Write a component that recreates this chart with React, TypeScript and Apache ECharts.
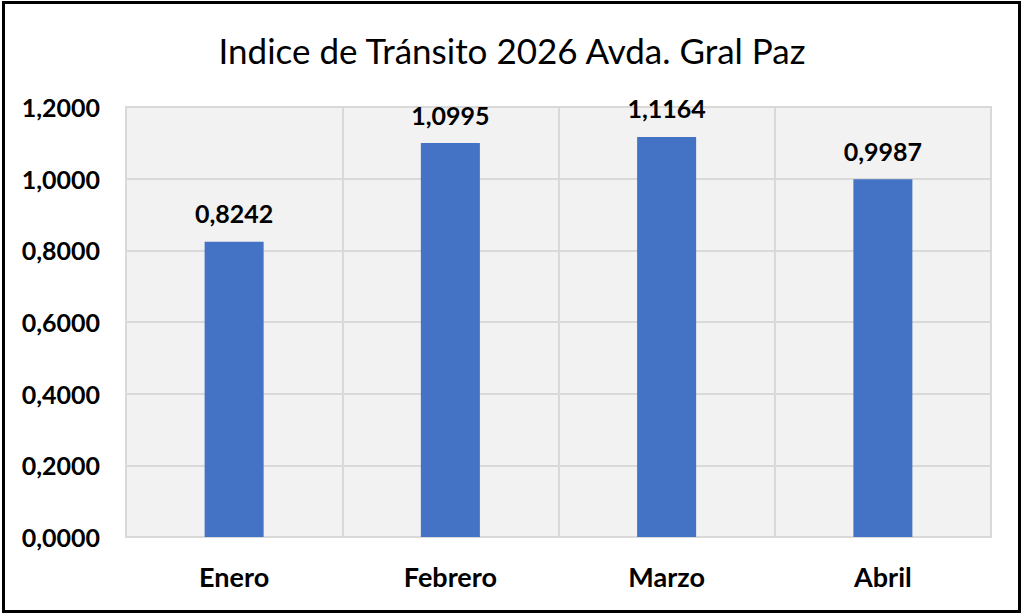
import React, { useEffect, useRef } from "react";
import * as echarts from "echarts";

const categories = ["Enero", "Febrero", "Marzo", "Abril"];
const values = [0.8242, 1.0995, 1.1164, 0.9987];
const titleText = "Indice de Tránsito 2026 Avda. Gral Paz";

const fmt = (v: number) => v.toFixed(4).replace(".", ",");

export default function App() {
  const ref = useRef<HTMLDivElement>(null);
  useEffect(() => {
    document.body.style.margin = "0";
    const chart = echarts.init(ref.current!, null, { renderer: "svg" });
    chart.setOption({
      animation: false,
      backgroundColor: "#ffffff",
      textStyle: { fontFamily: "Lato" },
      title: {
        text: titleText,
        left: "center",
        top: 27,
        textStyle: { fontFamily: "Lato", fontSize: 35, fontWeight: "normal", color: "#000" },
      },
      graphic: [
        {
          type: "rect",
          shape: { x: 3.5, y: 2.5, width: 1016, height: 609 },
          style: { fill: "none", stroke: "#000", lineWidth: 3 },
          z: 100,
        },
      ],
      grid: { left: 126, right: 33, top: 107, bottom: 79, containLabel: false,
        show: true, backgroundColor: "#f2f2f2", borderColor: "#d9d9d9", borderWidth: 2 },
      xAxis: {
        type: "category",
        data: categories,
        axisLine: { show: true, lineStyle: { color: "#d9d9d9", width: 2 } },
        axisTick: { show: false },
        splitLine: { show: true, interval: 0, lineStyle: { color: "#d9d9d9", width: 2 } },
        axisLabel: { color: "#000", fontSize: 27, fontWeight: "bold", margin: 26, fontFamily: "Lato" },
      },
      yAxis: {
        type: "value",
        min: 0,
        max: 1.2,
        interval: 0.2,
        axisLine: { show: false },
        axisTick: { show: false },
        splitLine: { lineStyle: { color: "#d9d9d9", width: 2 } },
        axisLabel: { color: "#000", fontSize: 25, fontWeight: "bold", margin: 26, fontFamily: "Lato",
          formatter: (v: number) => fmt(v) },
      },
      series: [
        {
          type: "bar",
          data: values,
          barWidth: 59,
          itemStyle: { color: "#4472c4" },
          label: {
            show: true,
            position: "top",
            distance: 16,
            color: "#000",
            fontSize: 25,
            fontWeight: "bold",
            fontFamily: "Lato",
            formatter: (p: any) => fmt(p.value),
          },
        },
      ],
    });
    return () => chart.dispose();
  }, []);
  return <div ref={ref} style={{ width: 1024, height: 616 }} />;
}
